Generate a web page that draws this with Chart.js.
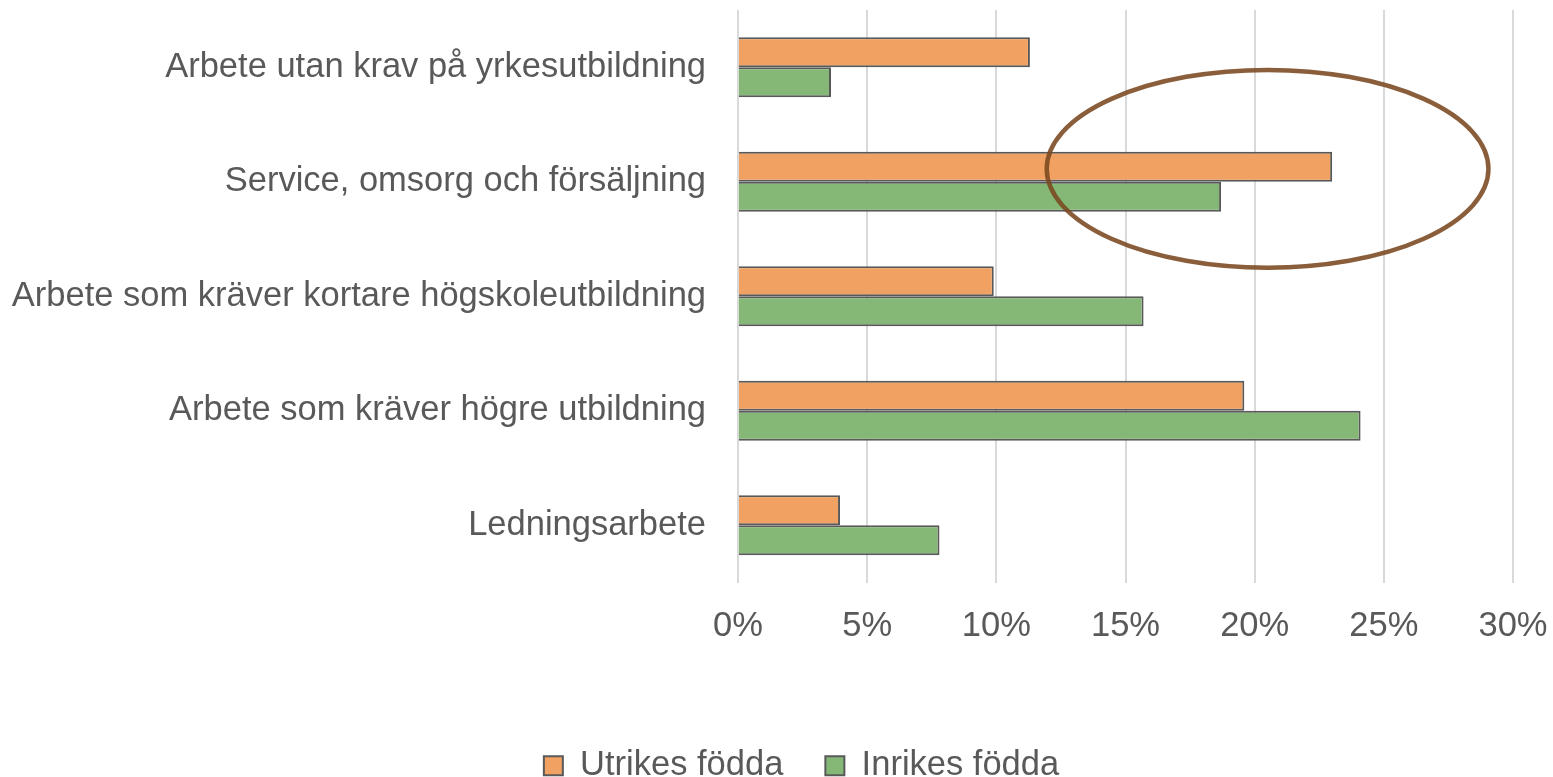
<!DOCTYPE html>
<html>
<head>
<meta charset="utf-8">
<script src="https://cdn.jsdelivr.net/npm/chart.js@4"></script>
<style>
  html, body { margin: 0; padding: 0; background: #fff; }
  #wrap { width: 1553px; height: 777px; }
</style>
</head>
<body>
<div id="wrap"><canvas id="chart"></canvas></div>
<script>
const categories = [
  "Arbete utan krav på yrkesutbildning",
  "Service, omsorg och försäljning",
  "Arbete som kräver kortare högskoleutbildning",
  "Arbete som kräver högre utbildning",
  "Ledningsarbete"
]
const seriesNames = ["Utrikes födda", "Inrikes födda"]
const utrikes = [11.3, 23.0, 9.9, 19.6, 3.95]
const inrikes = [3.6, 18.7, 15.7, 24.1, 7.8]
const xTicks = [0, 5, 10, 15, 20, 25, 30]

// ring around the "Service" group, in axis units
const highlight = { x: 20.5, y: 0.887, rx: 8.55, ry: 0.864 }

const textColor = "#595959"
const font = { family: "'Liberation Sans', Arial, sans-serif", size: 34.5 }

const ellipsePlugin = {
  id: "ellipse",
  afterLayout(chart) {
    // Excel centres the legend a bit right of the canvas middle
    chart.legend.left += 45
    chart.legend.right += 45
  },
  afterDatasetsDraw(chart) {
    const { ctx, scales: { x, y } } = chart
    const cx = x.getPixelForValue(highlight.x)
    const rx = x.getPixelForValue(highlight.x + highlight.rx) - cx
    const cy = y.getPixelForValue(highlight.y)
    const ry = (y.getPixelForValue(1) - y.getPixelForValue(0)) * highlight.ry
    ctx.save()
    ctx.beginPath()
    ctx.ellipse(cx, cy, rx, ry, 0, 0, Math.PI * 2)
    ctx.strokeStyle = "rgba(122, 72, 32, 0.88)"
    ctx.lineWidth = 4.5
    ctx.stroke()
    ctx.restore()
  }
}

new Chart(document.getElementById("chart"), {
  type: "bar",
  data: {
    labels: categories,
    datasets: [
      {
        label: seriesNames[0],
        data: utrikes,
        backgroundColor: "#F1A262",
        borderColor: "#595959",
        borderWidth: 2
      },
      {
        label: seriesNames[1],
        data: inrikes,
        backgroundColor: "#85B876",
        borderColor: "#595959",
        borderWidth: 2
      }
    ]
  },
  options: {
    indexAxis: "y",
    responsive: true,
    maintainAspectRatio: false,
    animation: false,
    categoryPercentage: 0.524,
    barPercentage: 1,
    layout: { padding: { top: 10, right: 40, left: 0, bottom: -16 } },
    plugins: {
      legend: {
        position: "bottom",
        labels: {
          boxWidth: 19,
          boxHeight: 19,
          padding: 42,
          color: textColor,
          font: font
        }
      },
      tooltip: { enabled: false }
    },
    scales: {
      x: {
        min: 0,
        max: 30,
        afterBuildTicks(scale) {
          scale.ticks = xTicks.map(v => ({ value: v }))
        },
        afterFit(scale) {
          scale.height = 124
          scale.paddingLeft = 0
          scale.paddingRight = 0
        },
        ticks: {
          padding: 23,
          color: textColor,
          font: font,
          callback: v => v + "%"
        },
        grid: { color: "#D9D9D9", lineWidth: 2, drawTicks: false },
        border: { display: false }
      },
      y: {
        afterFit(scale) {
          scale.width = 738
          scale.paddingTop = 0
          scale.paddingBottom = 0
        },
        ticks: {
          padding: 32,
          color: textColor,
          font: font
        },
        grid: { display: false, drawTicks: false },
        border: { display: false }
      }
    }
  },
  plugins: [ellipsePlugin]
})
</script>
</body>
</html>
